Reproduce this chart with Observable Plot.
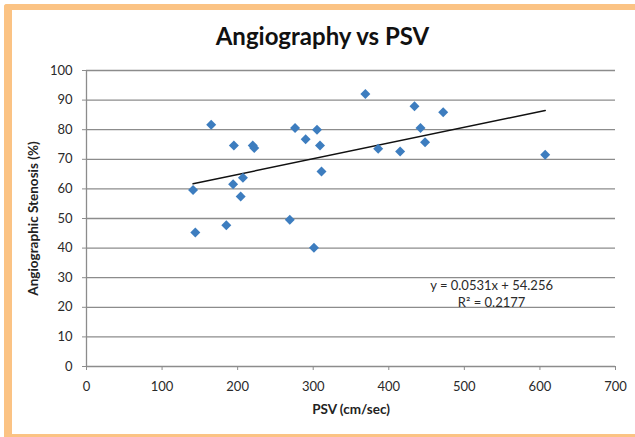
<!DOCTYPE html>
<html><head><meta charset="utf-8">
<script src="https://cdn.jsdelivr.net/npm/d3@7"></script>
<script src="https://cdn.jsdelivr.net/npm/@observablehq/plot@0.6"></script>
<style>
html,body{margin:0;padding:0;background:#fff;width:635px;height:437px;overflow:hidden;font-family:Lato,"Open Sans",sans-serif;}
#frame{position:absolute;left:4px;top:4px;width:623px;height:424px;border-top:6px solid #FBC384;border-left:8px solid #FBC384;border-bottom:3px solid #FBC384;border-top-left-radius:3px;background:#fff;}
#title{position:absolute;left:0;top:21px;width:645px;text-align:center;font-size:24px;font-weight:700;color:#111;line-height:29px;}
#chart{position:absolute;left:0;top:0;}
</style></head><body>
<div id="frame"></div>
<div id="chart"></div>
<div id="title">Angiography vs PSV</div>
<script>
const titleText = "Angiography vs PSV";
const xLabel = "PSV (cm/sec)";
const yLabel = "Angiographic Stenosis (%)";
const xTicks = [0, 100, 200, 300, 400, 500, 600, 700];
const yTicks = [0, 10, 20, 30, 40, 50, 60, 70, 80, 90, 100];

// PSV (cm/sec) values
const psv = [141, 144, 165, 195, 220, 222, 194, 207, 204, 185, 276, 290, 305, 309, 311, 269, 301, 369, 434, 472, 442, 448, 386, 415, 607];
// Angiographic stenosis (%) values
const stenosis = [59.6, 45.3, 81.7, 74.7, 74.7, 73.8, 61.6, 63.8, 57.4, 47.7, 80.6, 76.8, 80, 74.7, 65.9, 49.6, 40.1, 92.1, 87.9, 85.9, 80.6, 75.8, 73.6, 72.6, 71.5];

// Trendline as stated on the chart
const slope = 0.0531;
const intercept = 54.256;
const r2 = 0.2177;
const eqPos = {x: 536, y: 24.7};

const points = psv.map((x, i) => ({psv: x, stenosis: stenosis[i]}));
const [xmin, xmax] = d3.extent(psv);
const trend = [xmin, xmax].map(x => ({x, y: slope * x + intercept}));
const eqText = `y = ${slope}x + ${intercept}\nR\u00B2 = ${r2}`;

const gridColor = "#8c8c8c";

const chart = Plot.plot({
  width: 635, height: 437,
  marginLeft: 86, marginRight: 20, marginTop: 70, marginBottom: 71,
  style: {background: "transparent", fontFamily: "Lato, 'Open Sans', sans-serif", fontSize: "13px", color: "#222"},
  x: {domain: [0, 700], label: null},
  y: {domain: [0, 100], label: null},
  marks: [
    Plot.gridY(yTicks, {stroke: gridColor, strokeOpacity: 1, strokeWidth: 1.3}),
    Plot.ruleX([0], {stroke: gridColor, strokeWidth: 1.3}),
    Plot.axisY(yTicks, {tickSize: 4, tickPadding: 10, stroke: gridColor, fill: "#2a2a2a", fontSize: 13, label: null}),
    Plot.axisX(xTicks, {tickSize: 4, tickPadding: 11, stroke: gridColor, fill: "#2a2a2a", fontSize: 13, label: null}),
    Plot.line(trend, {x: "x", y: "y", stroke: "#111", strokeWidth: 1.5}),
    Plot.dot(points, {x: "psv", y: "stenosis", symbol: "diamond2", r: 4.5, fill: "#3D7DBF", stroke: "none"}),
    Plot.text([yLabel], {text: d => d, frameAnchor: "left", dx: -53, rotate: -90, textAnchor: "middle", lineAnchor: "middle", fontWeight: "bold", fontSize: 13.5, fill: "#222"}),
    Plot.text([xLabel], {text: d => d, frameAnchor: "bottom", dy: 43, textAnchor: "middle", lineAnchor: "middle", fontWeight: "bold", fontSize: 13.5, fill: "#222"}),
    Plot.text([eqText], {text: d => d, x: () => eqPos.x, y: () => eqPos.y, textAnchor: "middle", lineAnchor: "middle", lineHeight: 1.3, fontSize: 13, fill: "#2a2a2a"})
  ]
});
document.getElementById("chart").appendChild(chart);
</script>
</body></html>
